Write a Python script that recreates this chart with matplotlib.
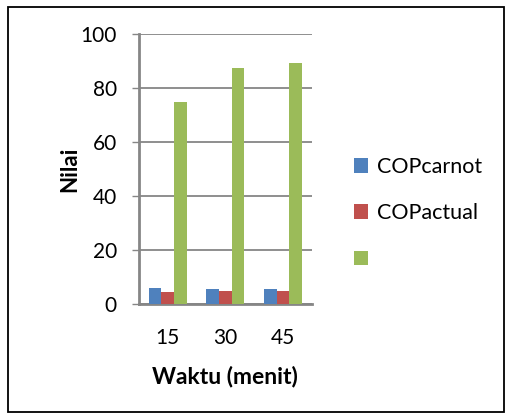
import matplotlib.pyplot as plt
import numpy as np
import matplotlib.patches as patches

# data
waktu = ['15', '30', '45']
cop_carnot = [5.9, 5.6, 5.6]
cop_actual = [4.4, 4.9, 4.9]
ketiga = [75.0, 87.4, 89.3]

plt.rcParams['font.family'] = ['Lato', 'DejaVu Sans']

fig = plt.figure(figsize=(5.11, 4.18), dpi=100)
ax = fig.add_axes([0.272, 0.272, 0.338, 0.646])

x = np.arange(len(waktu))
w = 0.22
b1 = ax.bar(x - w, cop_carnot, w, color='#4F81BD', zorder=3)
b2 = ax.bar(x, cop_actual, w, color='#C0504D', zorder=3)
b3 = ax.bar(x + w, ketiga, w, color='#9BBB59', zorder=3)

ax.set_xlim(-0.5, 2.5)
ax.set_ylim(0, 100)
ax.set_yticks(range(0, 101, 20))
ax.set_xticks(x)
ax.set_xticklabels(waktu)
ax.yaxis.grid(True, color='#868686', linewidth=1.3, zorder=0)

for s in ['top', 'right']:
    ax.spines[s].set_visible(False)
for s in ['left', 'bottom']:
    ax.spines[s].set_color('#868686')
    ax.spines[s].set_linewidth(2)
ax.tick_params(axis='y', colors='#868686', length=5, width=1, labelcolor='black', labelsize=15, pad=11)
ax.tick_params(axis='x', length=0, labelsize=15, pad=17)

ax.set_ylabel('Nilai', fontsize=16, fontweight='bold', va='center')
ax.yaxis.set_label_coords(-0.40, 0.5)
ax.set_xlabel('Waktu (menit)', fontsize=16.5, fontweight='bold', va='center')
ax.xaxis.set_label_coords(0.5, -0.267)

fig.legend([b1, b2, b3], ['COPcarnot', 'COPactual', ''], loc='center left',
           bbox_to_anchor=(0.672, 0.49), frameon=False, fontsize=15.5,
           handlelength=0.65, handleheight=0.65, handletextpad=0.4,
           labelspacing=1.22, borderpad=0)

# frame around the whole chart
fig.patches.append(patches.Rectangle((8 / 511, 6 / 418), 496 / 511, 405 / 418,
                                     transform=fig.transFigure, fill=False,
                                     edgecolor='black', linewidth=1.3))

fig.savefig('out.png', dpi=100)
